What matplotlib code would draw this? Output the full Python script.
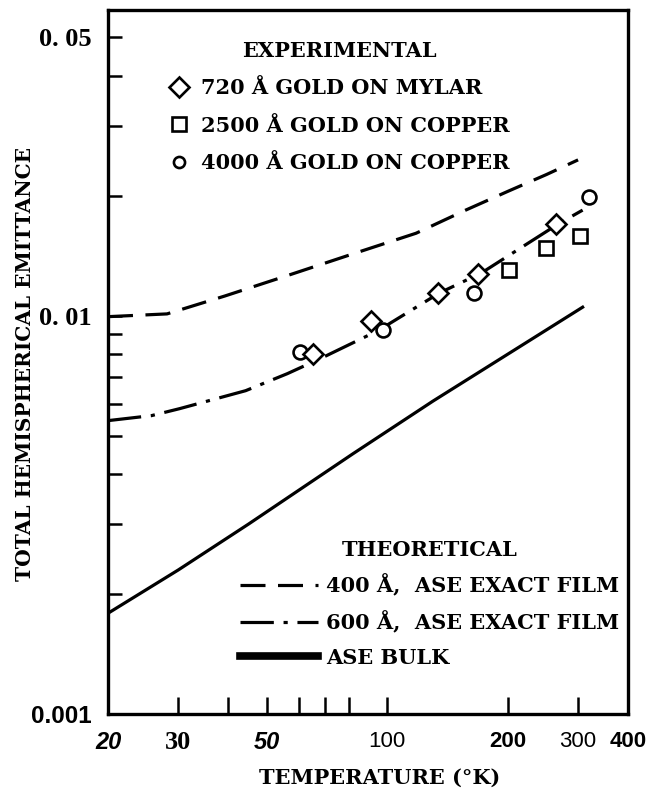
import matplotlib
matplotlib.use("Agg")
import matplotlib.pyplot as plt
from matplotlib.lines import Line2D
from matplotlib.ticker import FixedLocator, FixedFormatter, NullFormatter

plt.rcParams['lines.scale_dashes'] = False

# ---------------- data ----------------
# experimental points (temperature K, emittance)
t_mylar_720 = [65, 91, 134, 169, 264]
e_mylar_720 = [0.00803, 0.00972, 0.01142, 0.01275, 0.0170]

t_copper_2500 = [202, 250, 304]
e_copper_2500 = [0.01305, 0.01482, 0.0158]

t_copper_4000 = [60.3, 97.6, 165, 320]
e_copper_4000 = [0.00812, 0.00922, 0.01142, 0.0199]

# theoretical curves
t_film_400 = [20, 28.1, 39.2, 57.5, 82.2, 118, 157, 200, 250, 300]
e_film_400 = [0.00994, 0.0101, 0.0112, 0.0127, 0.0143, 0.0161, 0.0184, 0.0205, 0.0226, 0.0246]

t_film_600 = [20, 25.7, 30.2, 44.2, 56.2, 68.7, 94.8, 135, 172, 268, 308]
e_film_600 = [0.00545, 0.00561, 0.00584, 0.00648, 0.00715, 0.00784, 0.00917, 0.0114, 0.0128, 0.0170, 0.0184]

t_bulk = [20, 30, 45, 82, 130, 200, 308]
e_bulk = [0.00179, 0.00230, 0.00300, 0.00450, 0.0061, 0.0080, 0.0105]

x_ticks = [20, 30, 40, 50, 60, 70, 80, 100, 200, 300, 400]
x_tick_labels = ["20", "30", "", "50", "", "", "", "100", "200", "300", "400"]
y_major = [0.001, 0.01, 0.05]
y_major_labels = ["0.001", "0. 01", "0. 05"]
y_minor = [0.002, 0.003, 0.004, 0.005, 0.006, 0.007, 0.008, 0.009, 0.02, 0.03, 0.04]

# ---------------- figure ----------------
fig = plt.figure(figsize=(6.48, 7.94), dpi=100)
ax = fig.add_axes([108/648, 1-714/794, 520/648, 704/794])
ax.set_xscale('log')
ax.set_yscale('log')
ax.set_xlim(20, 400)
ax.set_ylim(0.001, 0.0585)

SERIF = ['DejaVu Serif']
SERIF2 = ['Liberation Serif', 'DejaVu Serif']
SANS = ['Liberation Sans', 'DejaVu Sans']

lw = 2.3
ax.plot(t_film_400, e_film_400, color='black', lw=lw, linestyle=(0, (18, 9)))
ax.plot(t_film_600, e_film_600, color='black', lw=lw, linestyle=(0, (24, 7, 3, 7)))
ax.plot(t_bulk, e_bulk, color='black', lw=lw, linestyle='-')

mk = dict(linestyle='none', markerfacecolor='white', markeredgecolor='black', markeredgewidth=1.9)
ax.plot(t_copper_4000, e_copper_4000, marker='o', markersize=10, **mk)
ax.plot(t_copper_2500, e_copper_2500, marker='s', markersize=9.5, **mk)
ax.plot(t_mylar_720, e_mylar_720, marker='D', markersize=10, **mk)

# spines
for s in ax.spines.values():
    s.set_linewidth(2.4)

# ticks
ax.xaxis.set_major_locator(FixedLocator(x_ticks))
ax.xaxis.set_major_formatter(FixedFormatter(x_tick_labels))
ax.xaxis.set_minor_locator(FixedLocator([]))
ax.yaxis.set_major_locator(FixedLocator(y_major))
ax.yaxis.set_major_formatter(FixedFormatter(y_major_labels))
ax.yaxis.set_minor_locator(FixedLocator(y_minor))
ax.yaxis.set_minor_formatter(NullFormatter())
ax.tick_params(axis='x', which='major', direction='in', length=12, width=1.8, pad=12)
ax.tick_params(axis='y', which='both', direction='in', length=10, width=1.8, pad=12)

x_styles = {
    "20": dict(family=SANS, weight='bold', style='italic', size=17),
    "30": dict(family=SERIF2, weight='bold', style='normal', size=19),
    "50": dict(family=SANS, weight='bold', style='italic', size=17),
    "100": dict(family=SANS, weight='normal', style='normal', size=16),
    "200": dict(family=SANS, weight='bold', style='normal', size=16),
    "300": dict(family=SANS, weight='normal', style='normal', size=16),
    "400": dict(family=SANS, weight='bold', style='normal', size=16),
}
for lab in ax.get_xticklabels():
    st = x_styles.get(lab.get_text())
    if st:
        lab.set_family(st['family'])
        lab.set_weight(st['weight'])
        lab.set_style(st['style'])
        lab.set_fontsize(st['size'])
for lab in ax.get_yticklabels():
    lab.set_weight('bold')
    if lab.get_text() == "0.001":
        lab.set_family(SANS)
        lab.set_fontsize(17.5)
    else:
        lab.set_family(SERIF2)
        lab.set_fontsize(19)

ax.set_xlabel("TEMPERATURE (°K)", fontsize=15, fontweight='bold', family=SERIF)
ax.xaxis.set_label_coords(0.523, -0.077)
ax.set_ylabel("TOTAL HEMISPHERICAL EMITTANCE", fontsize=14.5, fontweight='bold', family=SERIF)
ax.yaxis.set_label_coords(-0.14, 0.497)

FS = 15
# experimental legend
exp_handles = [
    Line2D([], [], marker='D', markersize=10, **mk),
    Line2D([], [], marker='s', markersize=9.5, **mk),
    Line2D([], [], marker='o', markersize=8, **mk),
]
exp_labels = ["720 Å GOLD ON MYLAR", "2500 Å GOLD ON COPPER", "4000 Å GOLD ON COPPER"]
leg1 = ax.legend(exp_handles, exp_labels, title="EXPERIMENTAL", loc='upper left',
                 bbox_to_anchor=(0.09, 0.977), frameon=False,
                 prop=dict(family=SERIF, weight='bold', size=FS),
                 handlelength=0.9, handletextpad=0.6, labelspacing=0.84, borderpad=0.2)
leg1.get_title().set_fontproperties(dict(family=SERIF, weight='bold', size=FS))
ax.add_artist(leg1)

theo_handles = [
    Line2D([], [], color='black', lw=lw, linestyle=(0, (18, 9))),
    Line2D([], [], color='black', lw=lw, linestyle=(0, (24, 7, 3, 7))),
    Line2D([], [], color='black', lw=5.5, linestyle='-'),
]
theo_labels = ["400 Å,  ASE EXACT FILM", "600 Å,  ASE EXACT FILM", "ASE BULK"]
leg2 = ax.legend(theo_handles, theo_labels, title="THEORETICAL", loc='upper left',
                 bbox_to_anchor=(0.225, 0.268), frameon=False,
                 prop=dict(family=SERIF, weight='bold', size=FS),
                 handlelength=3.75, handletextpad=0.4, labelspacing=0.68, borderpad=0.2)
leg2.get_title().set_fontproperties(dict(family=SERIF, weight='bold', size=FS))

fig.savefig("out.png", dpi=100)
